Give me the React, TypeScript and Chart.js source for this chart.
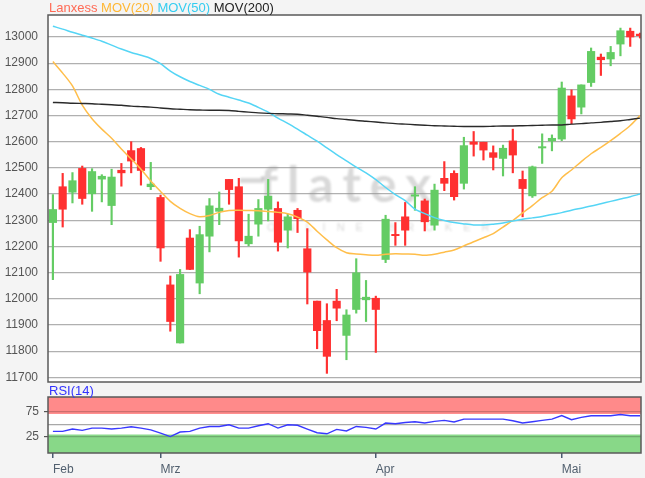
import React, { useEffect, useRef } from 'react';
import { Chart, registerables } from 'chart.js';
Chart.register(...registerables);

const openP = [12291, 12428, 12407, 12498, 12401, 12457, 12356, 12491, 12566, 12574, 12428, 12387, 12053, 11831, 12232, 12060, 12239, 12334, 12456, 12428, 12210, 12285, 12342, 12345, 12262, 12338, 12191, 11991, 11917, 11991, 11860, 11959, 11996, 12002, 12150, 12246, 12313, 12392, 12374, 12281, 12460, 12479, 12441, 12599, 12598, 12558, 12536, 12603, 12456, 12393, 12576, 12603, 12610, 12775, 12732, 12826, 12923, 12916, 12973, 13022, 13011];
const highP = [12398, 12479, 12482, 12507, 12497, 12474, 12495, 12517, 12600, 12578, 12521, 12396, 12087, 12112, 12264, 12277, 12383, 12408, 12456, 12460, 12323, 12379, 12456, 12370, 12323, 12345, 12268, 11991, 11981, 12036, 11958, 12153, 12070, 12010, 12319, 12291, 12368, 12428, 12381, 12438, 12524, 12489, 12617, 12639, 12598, 12584, 12587, 12648, 12488, 12507, 12630, 12626, 12828, 12798, 12817, 12958, 12935, 12964, 13034, 13034, 13015];
const lowP = [12073, 12274, 12366, 12361, 12334, 12370, 12283, 12430, 12481, 12434, 12417, 12143, 11876, 11831, 12111, 12019, 12179, 12283, 12361, 12159, 12202, 12239, 12297, 12182, 12194, 12253, 11980, 11809, 11715, 11916, 11767, 11945, 11913, 11795, 12138, 12204, 12204, 12338, 12259, 12262, 12413, 12377, 12419, 12545, 12530, 12492, 12469, 12481, 12313, 12387, 12517, 12565, 12604, 12668, 12706, 12811, 12853, 12890, 12928, 12964, 12996];
const closeP = [12341, 12342, 12451, 12383, 12486, 12468, 12465, 12481, 12526, 12490, 12438, 12194, 11913, 12093, 12112, 12245, 12355, 12346, 12417, 12221, 12239, 12345, 12392, 12216, 12313, 12306, 12102, 11878, 11780, 11964, 11938, 12099, 12006, 11959, 12304, 12241, 12262, 12397, 12294, 12415, 12441, 12390, 12585, 12590, 12568, 12540, 12575, 12549, 12421, 12504, 12581, 12613, 12805, 12687, 12817, 12945, 12913, 12941, 13024, 13000, 13005];

const mov20 = [12906, 12862, 12813, 12740, 12688, 12648, 12613, 12572, 12534, 12495, 12450, 12410, 12372, 12345, 12325, 12313, 12318, 12330, 12337, 12338, 12337, 12336, 12333, 12330, 12325, 12312, 12293, 12258, 12225, 12195, 12176, 12171, 12168, 12166, 12170, 12172, 12171, 12170, 12166, 12170, 12178, 12186, 12202, 12218, 12233, 12249, 12274, 12299, 12328, 12356, 12386, 12411, 12462, 12492, 12524, 12554, 12578, 12604, 12632, 12662, 12700];
const mov50 = [13041, 13030, 13018, 13007, 12996, 12984, 12969, 12954, 12941, 12930, 12918, 12898, 12870, 12848, 12830, 12815, 12800, 12781, 12770, 12759, 12748, 12731, 12713, 12690, 12670, 12648, 12625, 12602, 12576, 12551, 12527, 12503, 12481, 12455, 12425, 12398, 12375, 12342, 12325, 12310, 12299, 12291, 12286, 12282, 12282, 12285, 12289, 12297, 12304, 12309, 12314, 12322, 12329, 12338, 12346, 12354, 12363, 12372, 12381, 12390, 12400];
const mov200 = [12750, 12749, 12747, 12746, 12745, 12743, 12741, 12739, 12736, 12734, 12732, 12729, 12726, 12724, 12722, 12721, 12720, 12720, 12719, 12716, 12713, 12710, 12708, 12707, 12706, 12705, 12701, 12697, 12693, 12688, 12685, 12681, 12678, 12675, 12672, 12669, 12667, 12665, 12663, 12661, 12660, 12659, 12658, 12658, 12658, 12659, 12660, 12660, 12661, 12662, 12663, 12664, 12664, 12667, 12669, 12672, 12674, 12677, 12680, 12685, 12690];
const rsi14 = [36, 36, 40.6, 38, 42.5, 42.5, 40.6, 42.5, 45, 42.5, 39, 32.8, 26, 34.8, 36, 42.5, 45.7, 45.7, 49, 42.5, 42.5, 47, 51, 42.5, 49, 48, 40.6, 33.4, 31.4, 40, 37, 45.7, 43.8, 40.6, 52.3, 51, 53.5, 54.9, 52.3, 55.5, 57.4, 54.3, 60, 60, 60, 60, 60, 56.8, 52.3, 54.9, 57.4, 60, 67, 58.8, 63.3, 66.6, 66.6, 66.6, 69, 66.6, 66.6];

const monthTickIdx = [0, 11, 33, 52];
const monthLabels = ['Feb', 'Mrz', 'Apr', 'Mai'];
const priceTicks = [11700, 11800, 11900, 12000, 12100, 12200, 12300, 12400, 12500, 12600, 12700, 12800, 12900, 13000];
const rsiTicks = [25, 50, 75];
const rsiTickLabels = ['25', '', '75'];

const FONT = 'Arial, "Liberation Sans", sans-serif';
const GREEN = '#64cc64';
const RED = '#ff3030';

const bgPlugin = {
  id: 'bgPlugin',
  beforeDraw(chart: any) {
    const { ctx, chartArea: a } = chart;
    ctx.save();
    ctx.fillStyle = '#ffffff';
    ctx.fillRect(a.left, a.top, a.right - a.left, a.bottom - a.top);
    const bands = chart.options.plugins.bands;
    if (bands) {
      const y = chart.scales.y;
      for (const b of bands) {
        const y1 = y.getPixelForValue(Math.min(b.to, y.max));
        const y2 = y.getPixelForValue(Math.max(b.from, y.min));
        ctx.fillStyle = b.color;
        ctx.fillRect(a.left, y1, a.right - a.left, y2 - y1);
      }
    }
    ctx.restore();
  },
  afterDraw(chart: any) {
    const { ctx, chartArea: a } = chart;
    ctx.save();
    ctx.strokeStyle = '#5a5a5a';
    ctx.lineWidth = 1.5;
    ctx.strokeRect(a.left, a.top, a.right - a.left, a.bottom - a.top);
    ctx.restore();
  },
};

const watermarkPlugin = {
  id: 'watermark',
  beforeDatasetsDraw(chart: any) {
    const { ctx } = chart;
    ctx.save();
    ctx.filter = 'blur(0.8px)';
    ctx.fillStyle = 'rgba(150,150,150,0.36)';
    ctx.fillRect(240, 178, 24, 5);
    ctx.font = '700 50px Lato, "Open Sans", sans-serif';
    (ctx as any).letterSpacing = '9px';
    ctx.textBaseline = 'alphabetic';
    ctx.fillText('flatex', 260, 202);
    ctx.font = '11px ' + FONT;
    (ctx as any).letterSpacing = '11px';
    ctx.fillStyle = 'rgba(160,160,160,0.4)';
    ctx.fillText('ONLINE BROKER', 267, 231);
    ctx.restore();
  },
};

const xScaleBase = {
  type: 'linear' as const,
  min: -0.5,
  max: 60.1,
  offset: false,
  afterBuildTicks: (a: any) => {
    a.ticks = monthTickIdx.map((v) => ({ value: v }));
  },
};

export default function App() {
  const mainRef = useRef<HTMLCanvasElement>(null);
  const rsiRef = useRef<HTMLCanvasElement>(null);

  useEffect(() => {
    const idx = openP.map((_, i) => i);
    const col = (i: number) => (closeP[i] >= openP[i] ? GREEN : RED);
    const main = new Chart(mainRef.current!, {
      type: 'bar',
      data: {
        datasets: [
          { type: 'line', data: idx.map((i) => ({ x: i, y: mov200[i] })), borderColor: '#2a2a2a', borderWidth: 1.4, pointRadius: 0, tension: 0.3, order: 0 } as any,
          { type: 'line', data: idx.map((i) => ({ x: i, y: mov50[i] })), borderColor: '#55d5f5', borderWidth: 1.5, pointRadius: 0, tension: 0.3, order: 0 } as any,
          { type: 'line', data: idx.map((i) => ({ x: i, y: mov20[i] })), borderColor: '#ffbe4a', borderWidth: 1.5, pointRadius: 0, tension: 0.3, order: 0 } as any,
          { type: 'bar', data: idx.map((i) => ({ x: i, y: [openP[i], closeP[i]] })), backgroundColor: (c: any) => col(c.dataIndex), grouped: false, barPercentage: 1, categoryPercentage: 1, maxBarThickness: 7.5, borderWidth: 0, order: 1 } as any,
          { type: 'bar', data: idx.map((i) => ({ x: i, y: [lowP[i], highP[i]] })), backgroundColor: (c: any) => col(c.dataIndex), grouped: false, barPercentage: 1, categoryPercentage: 1, maxBarThickness: 1.5, borderWidth: 0, order: 2 } as any,
        ],
      },
      options: {
        responsive: false,
        animation: false,
        events: [],
        layout: { padding: { left: 0, top: 15, right: 4, bottom: 8 } },
        plugins: { legend: { display: false }, tooltip: { enabled: false } },
        scales: {
          x: { ...xScaleBase, display: false, grid: { offset: false } },
          y: {
            type: 'linear',
            min: 11682,
            max: 13084,
            beginAtZero: false,
            afterBuildTicks: (a: any) => { a.ticks = priceTicks.map((v) => ({ value: v })); },
            afterFit: (a: any) => { a.width = 48; a.paddingTop = 0; a.paddingBottom = 0; },
            grid: { color: '#b0b0b0', lineWidth: 1.2, drawTicks: false },
            border: { display: false },
            ticks: { padding: 10, color: '#555', font: { size: 12, family: FONT }, callback: (v: any) => String(v) },
          },
        },
      } as any,
      plugins: [bgPlugin, watermarkPlugin],
    });

    const rsi = new Chart(rsiRef.current!, {
      type: 'line',
      data: {
        datasets: [
          { data: idx.map((i) => ({ x: i, y: rsi14[i] })), borderColor: '#3838ff', borderWidth: 1.4, pointRadius: 0, tension: 0 },
        ],
      },
      options: {
        responsive: false,
        animation: false,
        events: [],
        layout: { padding: { left: 0, top: 7, right: 4, bottom: 0 } },
        plugins: {
          legend: { display: false },
          tooltip: { enabled: false },
          bands: [
            { from: 70, to: 200, color: '#ff8a8a' },
            { from: -50, to: 30, color: '#88d888' },
          ],
        },
        scales: {
          x: {
            ...xScaleBase,
            afterFit: (a: any) => { a.height = 25; a.paddingLeft = 0; a.paddingRight = 0; },
            grid: { drawOnChartArea: false, tickLength: 5, color: '#4a5a70', lineWidth: 1.5 },
            border: { display: false },
            ticks: {
              align: 'start',
              padding: 4,
              maxRotation: 0,
              autoSkip: false,
              color: '#52606f',
              font: { size: 12, family: FONT },
              callback: (v: any) => { const k = monthTickIdx.indexOf(v); return k >= 0 ? monthLabels[k] : ''; },
            },
          },
          y: {
            type: 'linear',
            min: -6,
            max: 103,
            afterBuildTicks: (a: any) => { a.ticks = rsiTicks.map((v) => ({ value: v })); },
            afterFit: (a: any) => { a.width = 48; a.paddingTop = 0; a.paddingBottom = 0; },
            grid: {
              color: (c: any) => (c.tick && c.tick.value === 50 ? '#a8a8a8' : 'rgba(0,0,0,0.2)'),
              tickColor: (c: any) => (c.tick && c.tick.value === 50 ? 'rgba(0,0,0,0)' : '#555'),
              lineWidth: 1.2,
              tickLength: 4,
            },
            border: { display: false },
            ticks: {
              padding: 5,
              color: '#555',
              font: { size: 12, family: FONT },
              callback: (v: any) => { const k = rsiTicks.indexOf(v); return k >= 0 ? rsiTickLabels[k] : ''; },
            },
          },
        },
      } as any,
      plugins: [bgPlugin],
    });

    return () => { main.destroy(); rsi.destroy(); };
  }, []);

  return (
    <div style={{ position: 'absolute', left: 0, top: 0, width: 645, height: 478, background: '#f4f4f4', overflow: 'hidden', fontFamily: FONT }}>
      <canvas ref={mainRef} width={645} height={390} style={{ position: 'absolute', left: 0, top: 0 }} />
      <canvas ref={rsiRef} width={645} height={88} style={{ position: 'absolute', left: 0, top: 390 }} />
      <div style={{ position: 'absolute', left: 49, top: 0, fontSize: 13, lineHeight: '16px', whiteSpace: 'nowrap' }}>
        <span style={{ color: '#ff6a55' }}>Lanxess</span>{' '}
        <span style={{ color: '#ffb733' }}>MOV(20)</span>{' '}
        <span style={{ color: '#35cdf0' }}>MOV(50)</span>{' '}
        <span style={{ color: '#222' }}>MOV(200)</span>
      </div>
      <div style={{ position: 'absolute', left: 49, top: 383, fontSize: 13, lineHeight: '16px', color: '#3333ff', whiteSpace: 'nowrap' }}>RSI(14)</div>
    </div>
  );
}
